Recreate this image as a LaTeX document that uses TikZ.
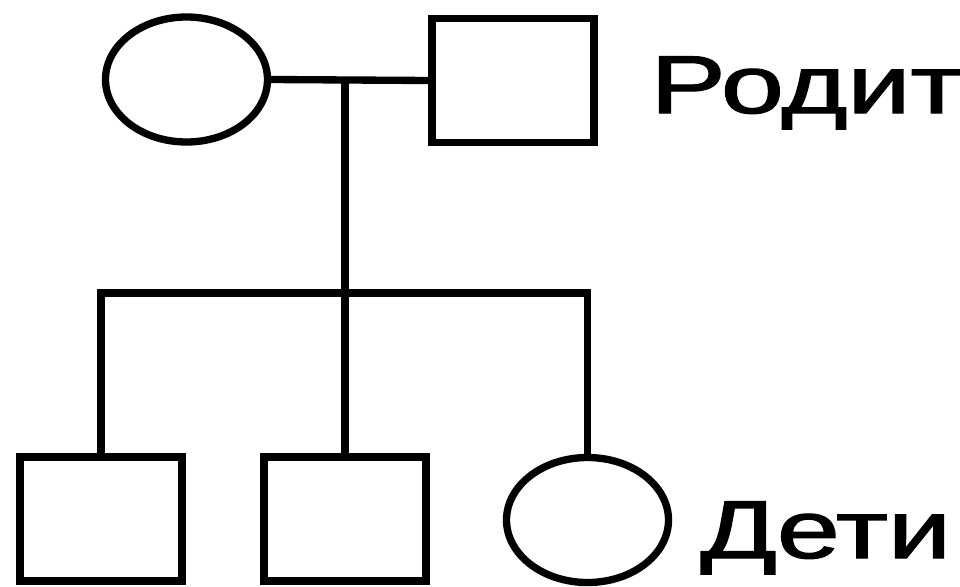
\documentclass[tikz,border=0pt]{standalone}
\usepackage{fontspec}
\setmainfont{Liberation Sans}
\newfontfamily\etfont{Liberation Sans}[FakeBold=1.5]
\usetikzlibrary{shapes.geometric}
\tikzset{
  femmina/.style = {ellipse, draw, line width=0.22cm, minimum width=4.86cm, minimum height=3.75cm, inner sep=0},
  maschio/.style = {rectangle, draw, line width=0.22cm, minimum width=4.86cm, minimum height=3.72cm, inner sep=0},
  link/.style    = {line width=0.22cm},
  et/.style      = {font=\etfont\fontsize{70}{80}\selectfont, xscale=1.38, inner sep=0, anchor=base west}
}

\begin{document}
\begin{tikzpicture}[x=0.03cm, y=-0.03cm]

  \useasboundingbox (0,0) rectangle (960,586);

  % genitori
  \node[femmina] (madre) at (186.5, 79.5) {};
  \node[maschio] (padre) at (513, 80.5) {};
  \draw[link] (madre.east) -- (padre.west);
  \coordinate (nodo) at (345, 79.5);
  \coordinate (barra) at (345, 293);
  \node[et] (gen) at (650, 113) {Родит};

  % figli
  \node[maschio] (figlio1) at (101, 519) {};
  \node[maschio] (figlio2) at (345, 519) {};
  \node[femmina] (figlia)  at (587.5, 520) {};
  \draw[link] (nodo) -- (barra);
  \draw[link] (figlio1.north) |- (barra) -| (figlia.north);
  \draw[link] (barra) -- (figlio2.north);
  \node[et] (fig) at (700, 558) {Дети};

\end{tikzpicture}
\end{document}
